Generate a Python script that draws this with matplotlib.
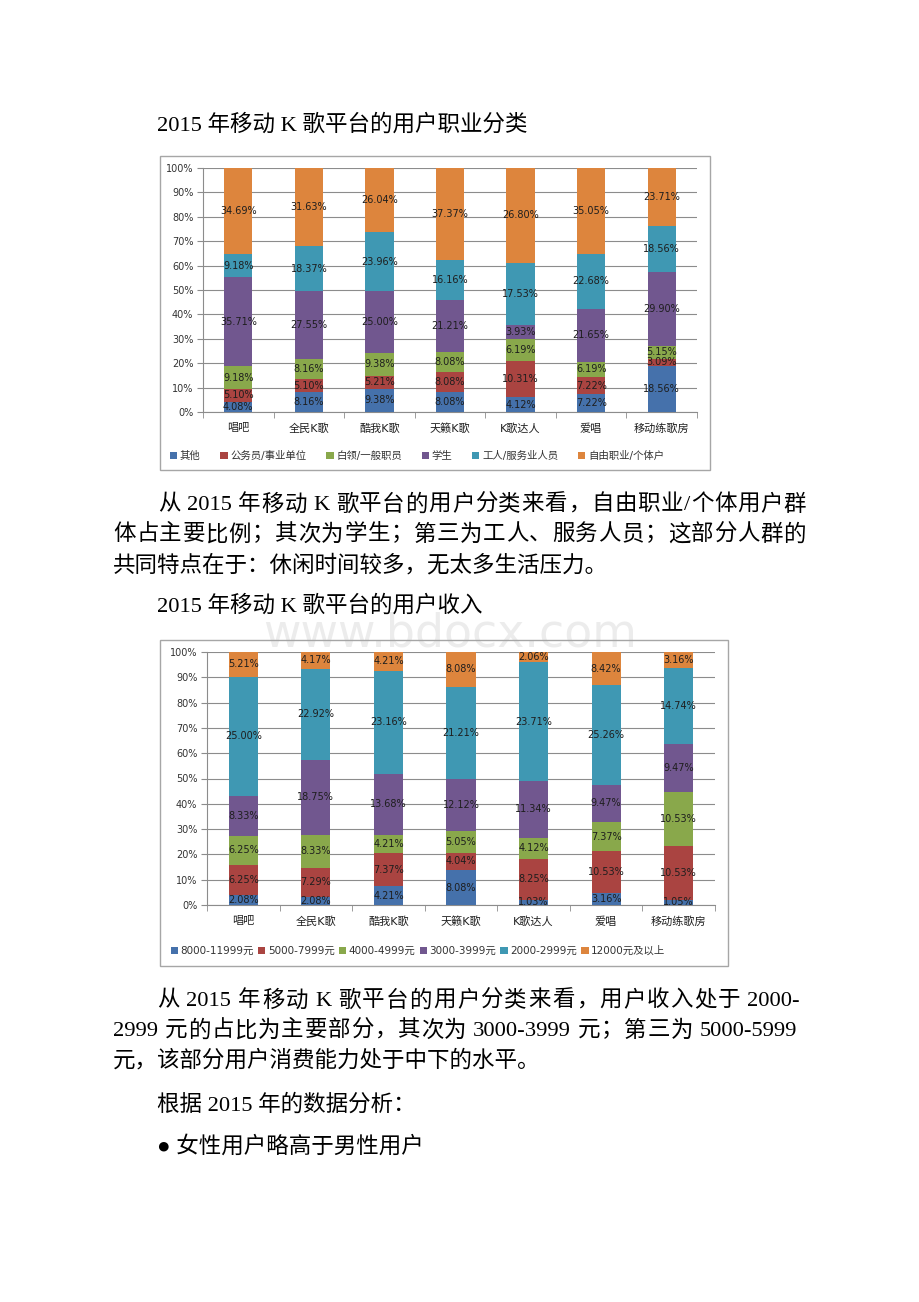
"""Two 100%-stacked bar charts (occupation / income of mobile karaoke users)
embedded in a document page, with the surrounding paragraph text.

    python3 plot.py  ->  out.png
"""

import re

import matplotlib.pyplot as plt
from matplotlib.patches import Rectangle

W, H = 920, 1302
SERIF = ["Liberation Serif", "Noto Sans CJK SC"]
CHART_FONT = ["DejaVu Sans", "Noto Sans CJK SC"]
BODY = 16.2  # pt, ~22.5 px at 100 dpi

platforms = ["唱吧", "全民K歌", "酷我K歌", "天籁K歌", "K歌达人", "爱唱", "移动练歌房"]

# chart 1: occupation
job_labels = ["其他", "公务员/事业单位", "白领/一般职员", "学生",
              "工人/服务业人员", "自由职业/个体户"]
job_other = [4.08, 8.16, 9.38, 8.08, 4.12, 7.22, 18.56]
job_civil = [5.10, 5.10, 5.21, 8.08, 10.31, 7.22, 3.09]
job_white = [9.18, 8.16, 9.38, 8.08, 6.19, 6.19, 5.15]
job_student = [35.71, 27.55, 25.00, 21.21, 3.93, 21.65, 29.90]
job_worker = [9.18, 18.37, 23.96, 16.16, 17.53, 22.68, 18.56]
job_free = [34.69, 31.63, 26.04, 37.37, 26.80, 35.05, 23.71]

# chart 2: income
income_labels = ["8000-11999元", "5000-7999元", "4000-4999元", "3000-3999元",
                 "2000-2999元", "12000元及以上"]
inc_8k = [2.08, 2.08, 4.21, 8.08, 1.03, 3.16, 1.05]
inc_5k = [6.25, 7.29, 7.37, 4.04, 8.25, 10.53, 10.53]
inc_4k = [6.25, 8.33, 4.21, 5.05, 4.12, 7.37, 10.53]
inc_3k = [8.33, 18.75, 13.68, 12.12, 11.34, 9.47, 9.47]
inc_2k = [25.00, 22.92, 23.16, 21.21, 23.71, 25.26, 14.74]
inc_12k = [5.21, 4.17, 4.21, 8.08, 2.06, 8.42, 3.16]

COLORS = ["#4571AB", "#AA4441", "#89A84B", "#71578F", "#3F98B3", "#DD853D"]

title1 = "2015 年移动 K 歌平台的用户职业分类"
para1 = ["从 2015 年移动 K 歌平台的用户分类来看，自由职业/个体用户群",
         "体占主要比例；其次为学生；第三为工人、服务人员；这部分人群的",
         "共同特点在于：休闲时间较多，无太多生活压力。"]
title2 = "2015 年移动 K 歌平台的用户收入"
para2 = ["从 2015 年移动 K 歌平台的用户分类来看，用户收入处于 2000-",
         "2999 元的占比为主要部分，其次为 3000-3999 元；第三为 5000-5999",
         "元，该部分用户消费能力处于中下的水平。"]
line_analysis = "根据 2015 年的数据分析："
line_bullet = "● 女性用户略高于男性用户"


def fx(x):
    return x / W


def fy(y):
    return 1 - y / H


def stacked_chart(fig, frame, axes_box, series, labels, legend_xy, colspace):
    # grey frame around the chart object
    fl, ft, fr, fb = frame
    fig.patches.append(Rectangle((fx(fl), fy(fb)), fx(fr - fl), (fb - ft) / H,
                                 transform=fig.transFigure, fill=False,
                                 edgecolor="#A6A6A6", lw=1.0))
    l, t, r, b = axes_box
    ax = fig.add_axes([fx(l), fy(b), fx(r - l), (b - t) / H])
    ax.patch.set_alpha(0)

    n = len(platforms)
    totals = [sum(s[i] for s in series) for i in range(n)]
    xs = list(range(n))
    bottoms = [0.0] * n
    handles = []
    for s, c in zip(series, COLORS):
        share = [v / tot * 100 for v, tot in zip(s, totals)]
        h = ax.bar(xs, share, width=0.4, bottom=bottoms, color=c, zorder=3)
        handles.append(h)
        for i in xs:
            ax.text(i, bottoms[i] + share[i] / 2, f"{s[i]:.2f}%", ha="center",
                    va="center", fontsize=7, color="#1E1E1E", zorder=4,
                    family=CHART_FONT)
        bottoms = [bt + sh for bt, sh in zip(bottoms, share)]

    ax.set_xlim(-0.5, n - 0.5)
    ax.set_ylim(0, 100)
    ax.set_yticks(range(0, 101, 10))
    ax.set_yticklabels([f"{v}%" for v in range(0, 101, 10)], fontsize=7,
                       color="#333333", family=CHART_FONT)
    ax.set_xticks(xs)
    ax.set_xticklabels(platforms, fontsize=8, color="#222222", family=CHART_FONT)
    ax.set_xticks([i + 0.5 for i in range(-1, n)], minor=True)
    ax.tick_params(axis="x", which="major", length=0, pad=8)
    ax.tick_params(axis="x", which="minor", length=4, color="#8C8C8C")
    ax.tick_params(axis="y", length=4, color="#8C8C8C", pad=3)
    ax.grid(axis="y", color="#8C8C8C", lw=0.8, zorder=0)
    for side in ("top", "right"):
        ax.spines[side].set_visible(False)
    for side in ("left", "bottom"):
        ax.spines[side].set_color("#8C8C8C")
        ax.spines[side].set_linewidth(0.8)

    leg = ax.legend(handles, labels, loc="center",
                    bbox_to_anchor=(fx(legend_xy[0]), fy(legend_xy[1])),
                    bbox_transform=fig.transFigure, ncol=len(labels),
                    frameon=False, handlelength=0.7, handleheight=0.7,
                    handletextpad=0.25, columnspacing=colspace,
                    prop={"family": CHART_FONT, "size": 7.5})
    for txt in leg.get_texts():
        txt.set_color("#333333")
    return ax


def text_line(fig, renderer, text, x0, y, x1=None):
    """Draw one body line; if x1 is given, justify it between x0 and x1."""
    if x1 is None:
        fig.text(fx(x0), fy(y), text, fontsize=BODY, family=SERIF,
                 va="center", ha="left", color="black")
        return
    tokens = re.findall(r"[A-Za-z0-9./\-]+|\s+|[^\sA-Za-z0-9./\-]", text)
    space = 0.25 * BODY * 100 / 72
    items = []  # (token, width, gap_before)
    gap = 0.0
    for tok in tokens:
        if tok.isspace():
            gap = space
            continue
        t = fig.text(0, 0, tok, fontsize=BODY, family=SERIF)
        w = t.get_window_extent(renderer).width
        t.remove()
        items.append((tok, w, gap))
        gap = 0.0
    natural = sum(w + g for _, w, g in items)
    extra = (x1 - x0 - natural) / max(len(items) - 1, 1)
    x = x0
    for k, (tok, w, g) in enumerate(items):
        if k > 0:
            x += g + extra
        fig.text(fx(x), fy(y), tok, fontsize=BODY, family=SERIF,
                 va="center", ha="left", color="black")
        x += w


def main() -> None:
    fig = plt.figure(figsize=(W / 100, H / 100), dpi=100)
    fig.patch.set_facecolor("white")
    renderer = fig.canvas.get_renderer()

    # watermark
    fig.text(fx(450), fy(634), "www.bdocx.com", fontsize=33, color="#ECECEC",
             ha="center", va="center", family="DejaVu Sans", zorder=0)

    text_line(fig, renderer, title1, 157, 125)
    stacked_chart(fig, (160, 156, 710, 470), (203, 168, 697, 412),
                  [job_other, job_civil, job_white, job_student, job_worker,
                   job_free], job_labels, (417, 456), 1.9)

    text_line(fig, renderer, para1[0], 158, 505, 806)
    text_line(fig, renderer, para1[1], 113, 535, 806)
    text_line(fig, renderer, para1[2], 113, 566)

    text_line(fig, renderer, title2, 157, 606)
    stacked_chart(fig, (160, 640, 728, 966), (207, 652, 715, 905),
                  [inc_8k, inc_5k, inc_4k, inc_3k, inc_2k, inc_12k],
                  income_labels, (418, 951), 0.4)

    text_line(fig, renderer, para2[0], 157, 1001, 800)
    text_line(fig, renderer, para2[1], 113, 1031, 797)
    text_line(fig, renderer, para2[2], 113, 1061)
    text_line(fig, renderer, line_analysis, 157, 1105)
    text_line(fig, renderer, line_bullet, 157, 1147)

    fig.savefig("out.png", dpi=100, facecolor="white")
    plt.close(fig)


if __name__ == "__main__":
    main()
